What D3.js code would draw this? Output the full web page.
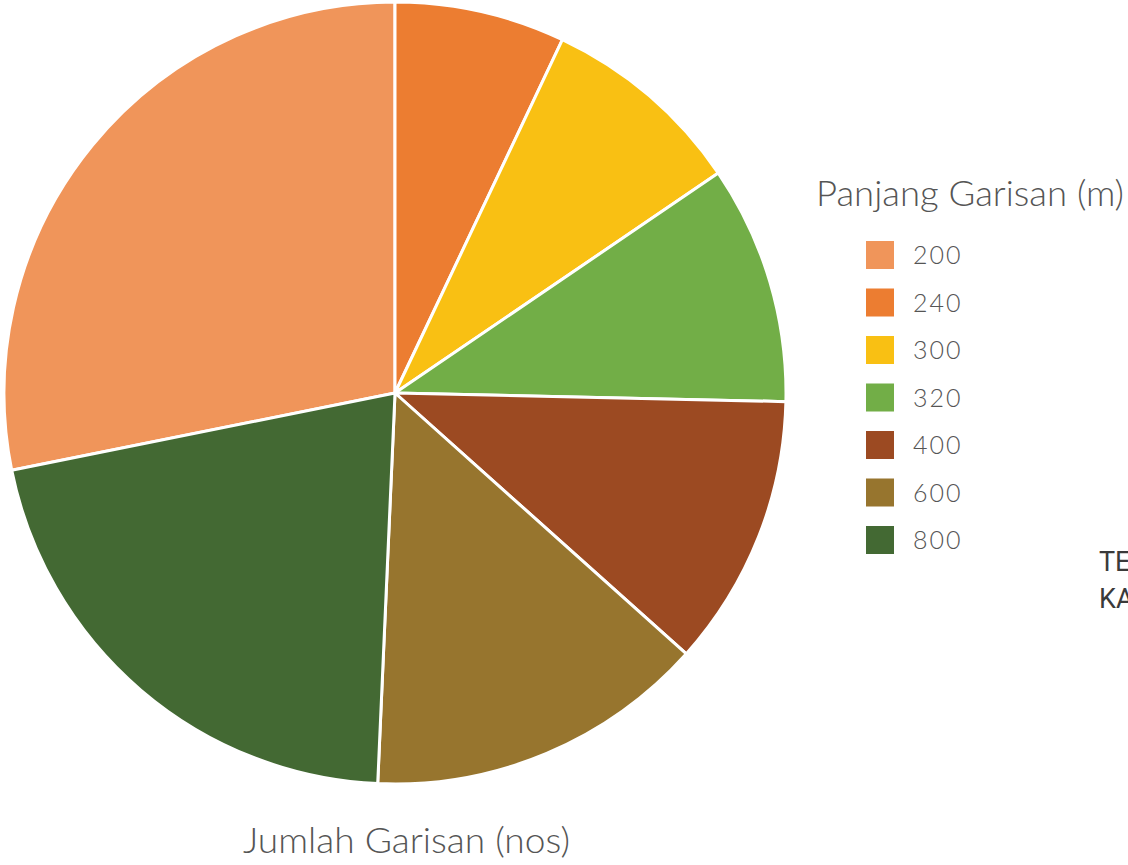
<!doctype html>
<html>
<head>
<meta charset="utf-8">
<title>Panjang Garisan</title>
<script src="https://cdn.jsdelivr.net/npm/d3@7/dist/d3.min.js"></script>
<style>
  body { margin: 0; background: #fff; }
  svg { display: block; }
</style>
</head>
<body>
<script>
// data
var lengths = ["200", "240", "300", "320", "400", "600", "800"];
var counts = [20, 5, 6, 7, 8, 10, 15];
var colours = ["#F0955A", "#EC7D31", "#F9C013", "#72AE47", "#9C4A22", "#97752E", "#436933"];

var w = 1128, h = 865;
var cx = 395, cy = 393, r = 391;

var svg = d3.select("body").append("svg")
    .attr("width", w)
    .attr("height", h);

var total = d3.sum(counts);
// first slice (200) ends at 12 o'clock
var offset = counts[0] / total * 2 * Math.PI;

var pie = d3.pie()
    .sort(null)
    .startAngle(-offset)
    .endAngle(2 * Math.PI - offset);

var arc = d3.arc().innerRadius(0).outerRadius(r);

var color = d3.scaleOrdinal().domain(lengths).range(colours);

svg.append("g")
    .attr("transform", "translate(" + cx + "," + cy + ")")
  .selectAll("path")
    .data(pie(counts))
    .enter()
    .append("path")
    .attr("d", arc)
    .attr("fill", function(d, i) { return color(lengths[i]); })
    .attr("stroke", "#fff")
    .attr("stroke-width", 3)
    .attr("stroke-linejoin", "round");

// legend
svg.append("text")
    .attr("x", 816)
    .attr("y", 206)
    .attr("font-family", "'Helvetica Neue', Lato, 'Open Sans', sans-serif")
    .attr("font-weight", 300)
    .attr("font-size", "36px")
    .attr("fill", "#555")
    .attr("textLength", 308)
    .attr("lengthAdjust", "spacingAndGlyphs")
    .text("Panjang Garisan (m)");

var y = d3.scalePoint().domain(lengths).range([255, 540]);

var item = svg.selectAll("g.leg")
    .data(lengths)
    .enter()
    .append("g")
    .attr("class", "leg")
    .attr("transform", function(d) { return "translate(866," + y(d) + ")"; });

item.append("rect")
    .attr("x", 0)
    .attr("y", -14)
    .attr("width", 28)
    .attr("height", 28)
    .attr("fill", function(d) { return color(d); });

item.append("text")
    .attr("x", 47)
    .attr("y", 0)
    .attr("dy", "0.36em")
    .attr("font-family", "Lato, 'Open Sans', sans-serif")
    .attr("font-weight", 300)
    .attr("font-size", "25px")
    .attr("fill", "#555")
    .attr("letter-spacing", "2px")
    .text(function(d) { return d; });

// bottom caption
svg.append("text")
    .attr("x", 243)
    .attr("y", 853)
    .attr("font-family", "'Helvetica Neue', Lato, 'Open Sans', sans-serif")
    .attr("font-weight", 300)
    .attr("font-size", "36px")
    .attr("fill", "#555")
    .attr("textLength", 327)
    .attr("lengthAdjust", "spacingAndGlyphs")
    .text("Jumlah Garisan (nos)");

// clipped text at the right edge
svg.append("text")
    .attr("x", 1099)
    .attr("y", 571)
    .attr("font-family", "Roboto, 'Open Sans', sans-serif")
    .attr("font-size", "27px")
    .attr("fill", "#3a3a3a")
    .text("TE");
svg.append("text")
    .attr("x", 1099)
    .attr("y", 608)
    .attr("font-family", "Roboto, 'Open Sans', sans-serif")
    .attr("font-size", "27px")
    .attr("fill", "#3a3a3a")
    .text("KA");
</script>
</body>
</html>
